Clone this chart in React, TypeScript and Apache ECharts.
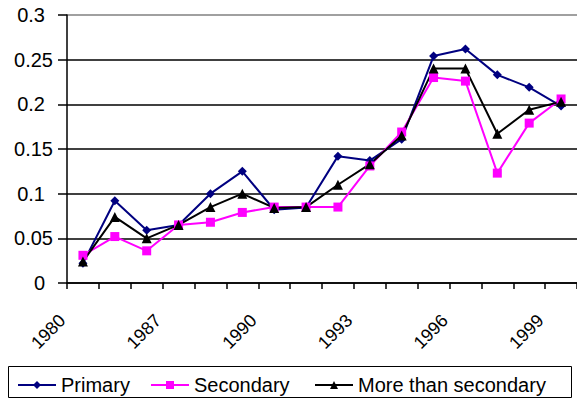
import React, { useEffect, useRef } from "react";
import * as echarts from "echarts";

const years = ["1980", "1983", "1985", "1987", "1988", "1989", "1990", "1991", "1992", "1993", "1994", "1995", "1996", "1997", "1998", "1999"];
const primary = [0.022, 0.092, 0.059, 0.065, 0.1, 0.125, 0.082, 0.0845, 0.142, 0.137, 0.161, 0.254, 0.262, 0.233, 0.219, 0.198];
const secondary = [0.031, 0.052, 0.036, 0.065, 0.068, 0.079, 0.085, 0.085, 0.085, 0.131, 0.169, 0.23, 0.226, 0.123, 0.179, 0.206];
const moreThanSecondary = [0.024, 0.074, 0.05, 0.065, 0.085, 0.1, 0.084, 0.085, 0.11, 0.133, 0.165, 0.24, 0.24, 0.167, 0.194, 0.203];
const seriesNames = ["Primary", "Secondary", "More than secondary"];

const FONT = "'Liberation Sans', Arial, sans-serif";

const legendBase = {
  top: 375,
  padding: 0,
  itemWidth: 38,
  itemHeight: 10,
  itemGap: 13,
  textStyle: { fontSize: 20, fontFamily: FONT, color: "#000" },
};

export default function App() {
  const ref = useRef<HTMLDivElement>(null);
  useEffect(() => {
    if (!ref.current) return;
    const chart = echarts.init(ref.current, undefined, { renderer: "svg" });
    chart.setOption({
      animation: false,
      backgroundColor: "#ffffff",
      textStyle: { fontFamily: FONT },
      grid: { left: 67, top: 15, width: 516, height: 268, containLabel: false },
      xAxis: {
        type: "category",
        data: years,
        boundaryGap: true,
        axisLine: { show: true, lineStyle: { color: "#000", width: 1.5 } },
        axisTick: { show: true, interval: 0, length: 6, lineStyle: { color: "#000", width: 1.5 } },
        axisLabel: {
          interval: 2,
          rotate: 45,
          margin: 14,
          padding: [0, 29, 0, 0],
          color: "#000",
          fontSize: 18,
          fontFamily: FONT,
        },
        splitLine: { show: false },
      },
      yAxis: {
        type: "value",
        min: 0,
        max: 0.3,
        interval: 0.05,
        axisLine: { show: true, lineStyle: { color: "#000", width: 1.5 } },
        axisTick: { show: true, length: 9, lineStyle: { color: "#000", width: 1.5 } },
        axisLabel: {
          margin: 14,
          color: "#000",
          fontSize: 20,
          fontFamily: FONT,
          formatter: (v: number) => {
            const s = String(Math.round(v * 100) / 100);
            return s.length < 4 ? "{s|" + s + "}" : "{l|" + s + "}";
          },
          rich: {
            s: { fontSize: 20, fontFamily: FONT, color: "#000", padding: [0, 8, 0, 0] },
            l: { fontSize: 20, fontFamily: FONT, color: "#000" },
          },
        },
        splitLine: {
          show: true,
          lineStyle: { color: ["#000", "#000", "#000", "#000", "#000", "#000", "#808080"], width: 1.5 },
        },
      },
      legend: [
        { ...legendBase, left: 17, data: [seriesNames[0]] },
        { ...legendBase, left: 150, data: [seriesNames[1]] },
        { ...legendBase, left: 314, data: [seriesNames[2]] },
      ],
      graphic: [
        {
          type: "rect",
          shape: { x: 8.5, y: 366.5, width: 563, height: 31 },
          style: { fill: "none", stroke: "#000", lineWidth: 1 },
          silent: true,
        },
      ],
      series: [
        {
          name: seriesNames[0],
          type: "line",
          data: primary,
          symbol: "diamond",
          symbolSize: 9,
          itemStyle: { color: "#000080" },
          lineStyle: { color: "#000080", width: 2 },
        },
        {
          name: seriesNames[1],
          type: "line",
          data: secondary,
          symbol: "rect",
          symbolSize: 9,
          itemStyle: { color: "#ff00ff" },
          lineStyle: { color: "#ff00ff", width: 2 },
        },
        {
          name: seriesNames[2],
          type: "line",
          data: moreThanSecondary,
          symbol: "triangle",
          symbolSize: 10,
          itemStyle: { color: "#000" },
          lineStyle: { color: "#000", width: 2 },
        },
      ],
    });
    return () => chart.dispose();
  }, []);
  return (
    <div
      ref={ref}
      style={{ position: "absolute", left: 0, top: 0, width: 577, height: 400, overflow: "hidden" }}
    />
  );
}
